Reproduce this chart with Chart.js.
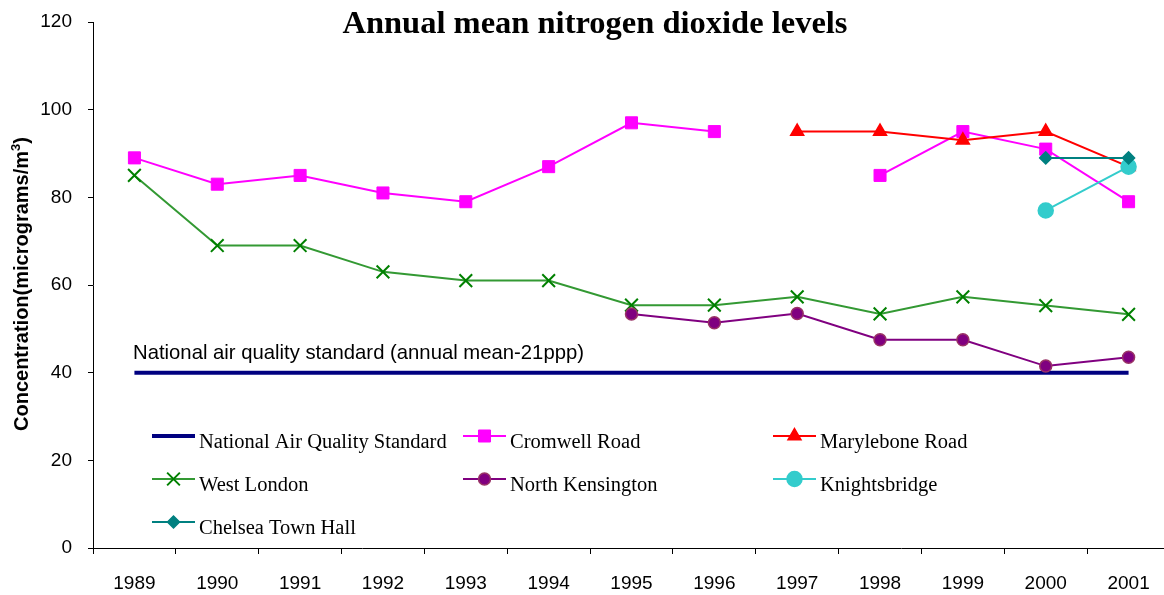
<!DOCTYPE html>
<html>
<head>
<meta charset="utf-8">
<title>Annual mean nitrogen dioxide levels</title>
<script src="https://cdn.jsdelivr.net/npm/chart.js@4"></script>
<style>
  html,body{margin:0;padding:0;background:#fff;overflow:hidden}
  #wrap{width:1172px;height:595px}
</style>
</head>
<body>
<div id="wrap"><canvas id="no2" width="1172" height="595"></canvas></div>
<script>
/* ── data ── */
const years=['1989','1990','1991','1992','1993','1994','1995','1996','1997','1998','1999','2000','2001'];
const yTicks=[0,20,40,60,80,100,120];
const nationalStd=[40,40,40,40,40,40,40,40,40,40,40,40,40];
const cromwellRoad=[89,83,85,81,79,87,97,95,null,85,95,91,79];
const maryleboneRoad=[null,null,null,null,null,null,null,null,95,95,93,95,87];
const westLondon=[85,69,69,63,61,61,55.4,55.4,57.3,53.4,57.3,55.3,53.3];
const northKensington=[null,null,null,null,null,null,53.4,51.4,53.5,47.5,47.5,41.5,43.5];
const knightsbridge=[null,null,null,null,null,null,null,null,null,null,null,77,87];
const chelseaTownHall=[null,null,null,null,null,null,null,null,null,null,null,89,89];

const SANS='"Liberation Sans", Arial, sans-serif';
const SERIF='"Liberation Serif", "Times New Roman", serif';

function series(label,data,o){
  return Object.assign({label:label,data:data,spanGaps:false,fill:false,tension:0,borderWidth:2,pointBorderWidth:1.5},o);
}

const datasets=[
  series('National Air Quality Standard',nationalStd,{borderColor:'#000080',borderWidth:4,pointRadius:0,pointHoverRadius:0,order:7}),
  series('Cromwell Road',cromwellRoad,{borderColor:'#FF00FF',pointStyle:'rect',pointRadius:8.5,pointBorderWidth:1,pointBackgroundColor:'#FF00FF',pointBorderColor:'#FF00FF',order:6}),
  series('Marylebone Road',maryleboneRoad,{borderColor:'#FF0000',pointStyle:'triangle',pointRadius:7.5,pointBackgroundColor:'#FF0000',pointBorderColor:'#FF0000',order:5}),
  series('West London',westLondon,{borderColor:'#339933',pointStyle:'crossRot',pointRadius:9,pointBorderWidth:2,pointBackgroundColor:'#008000',pointBorderColor:'#008000',order:4}),
  series('North Kensington',northKensington,{borderColor:'#800080',pointStyle:'circle',pointRadius:6,pointBackgroundColor:'#800080',pointBorderColor:'#993366',order:3}),
  series('Knightsbridge',knightsbridge,{borderColor:'#33CCCC',pointStyle:'circle',pointRadius:7.5,pointBackgroundColor:'#33CCCC',pointBorderColor:'#33CCCC',order:2}),
  series('Chelsea Town Hall',chelseaTownHall,{borderColor:'#008080',pointStyle:'rectRot',pointRadius:6,pointBackgroundColor:'#008080',pointBorderColor:'#008080',order:1})
];

/* legend grid: 3 columns, rows as in the original */
const legendCols=[152,463,773];
const legendRows=[436,479,522];

const overlay={
  id:'overlay',
  afterDraw(chart){
    const ctx=chart.ctx;
    ctx.save();
    // title
    ctx.fillStyle='#000';
    ctx.font='bold 32.5px '+SERIF;
    ctx.textAlign='center';ctx.textBaseline='alphabetic';
    ctx.fillText('Annual mean nitrogen dioxide levels',595,33);
    // y axis title
    ctx.save();
    ctx.translate(28,284);ctx.rotate(-Math.PI/2);
    ctx.font='bold 20px '+SANS;
    const main='Concentration(micrograms/m',sup='3',end=')';
    const w1=ctx.measureText(main).width,w3=ctx.measureText(end).width;
    ctx.font='bold 13px '+SANS;
    const w2=ctx.measureText(sup).width;
    let x=-(w1+w2+w3)/2;
    ctx.textAlign='left';
    ctx.font='bold 20px '+SANS;ctx.fillText(main,x,0);x+=w1;
    ctx.font='bold 13px '+SANS;ctx.fillText(sup,x,-8);x+=w2;
    ctx.font='bold 20px '+SANS;ctx.fillText(end,x,0);
    ctx.restore();
    // standard label
    ctx.font='20.3px '+SANS;ctx.textAlign='left';
    ctx.fillText('National air quality standard (annual mean-21ppp)',133,359);
    // legend
    ctx.font='20.5px '+SERIF;
    chart.data.datasets.forEach(function(ds,i){
      const lx=legendCols[i%3],ly=legendRows[Math.floor(i/3)];
      ctx.strokeStyle=ds.borderColor;ctx.lineWidth=ds.borderWidth;
      ctx.beginPath();ctx.moveTo(lx,ly);ctx.lineTo(lx+43,ly);ctx.stroke();
      if(ds.pointRadius){
        ctx.fillStyle=ds.pointBackgroundColor;ctx.strokeStyle=ds.pointBorderColor;ctx.lineWidth=ds.pointBorderWidth;
        Chart.helpers.drawPoint(ctx,{pointStyle:ds.pointStyle,radius:ds.pointRadius,rotation:0,borderWidth:ds.pointBorderWidth},lx+21.5,ly);
      }
      ctx.fillStyle='#000';ctx.textBaseline='alphabetic';
      ctx.fillText(ds.label,lx+47,ly+12);
    });
    ctx.restore();
  }
};

new Chart(document.getElementById('no2'),{
  type:'line',
  data:{labels:years,datasets:datasets},
  options:{
    responsive:false,animation:false,
    layout:{autoPadding:false,padding:{top:22,right:2,left:0,bottom:0}},
    plugins:{legend:{display:false},title:{display:false},tooltip:{enabled:false}},
    scales:{
      x:{
        offset:true,
        grid:{offset:true,drawOnChartArea:false,tickLength:6,color:'#000',tickColor:'#000'},
        border:{color:'#000',width:1},
        ticks:{color:'#000',font:{family:SANS,size:19},padding:18,maxRotation:0,autoSkip:false},
        afterFit(s){s.height=47;s.paddingLeft=0;s.paddingRight=0}
      },
      y:{
        min:0,max:120,
        afterBuildTicks(s){s.ticks=yTicks.map(function(v){return {value:v}})},
        grid:{drawOnChartArea:false,tickLength:5,color:'#000',tickColor:'#000'},
        border:{color:'#000',width:1},
        ticks:{color:'#000',font:{family:SANS,size:19},padding:16},
        afterFit(s){s.width=93;s.paddingTop=0;s.paddingBottom=0}
      }
    }
  },
  plugins:[overlay]
});
</script>
</body>
</html>
